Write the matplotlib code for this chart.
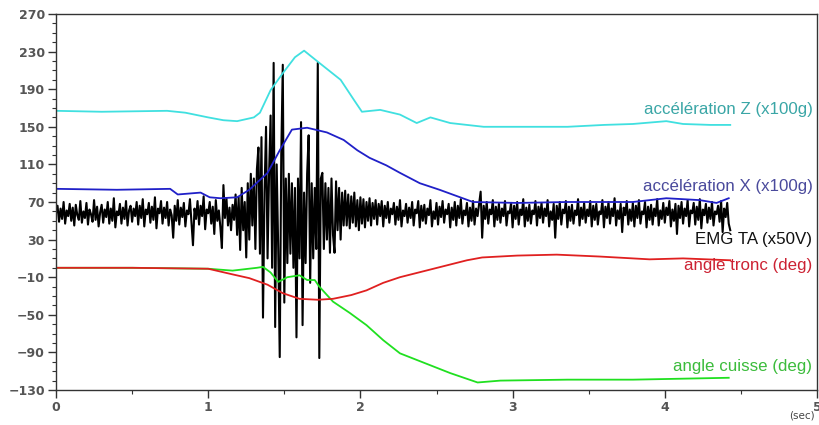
import numpy as np
import matplotlib
matplotlib.use("Agg")
import matplotlib.pyplot as plt
from matplotlib.ticker import MultipleLocator

# accélération Z (x100g)
acc_z_t = [0, 0.3, 0.73, 0.85, 1.0, 1.1, 1.19, 1.3, 1.34, 1.41, 1.49, 1.57, 1.63, 1.73,
           1.87, 1.96, 2.01, 2.13, 2.26, 2.37, 2.46, 2.59, 2.81, 3.1, 3.36, 3.6, 3.79,
           4.01, 4.12, 4.3, 4.43]
acc_z = [167, 166, 167, 165, 160, 157, 156, 160, 165, 189, 207, 224, 231, 218,
         200, 178, 166, 168, 163, 154, 160, 154, 150, 150, 150, 152, 153,
         156, 153, 152, 152]

# accélération X (x100g)
acc_x_t = [0, 0.4, 0.75, 0.80, 0.95, 1.01, 1.08, 1.19, 1.27, 1.39, 1.47, 1.55, 1.65, 1.78,
           1.89, 1.98, 2.06, 2.17, 2.26, 2.39, 2.52, 2.74, 3.03, 3.36, 3.79, 4.01, 4.23,
           4.34, 4.42]
acc_x = [84, 83, 84, 78, 80, 75, 74, 75, 83, 101, 125, 147, 149, 144,
         136, 125, 117, 109, 101, 90, 83, 70, 69, 70, 70, 74, 72,
         69, 74]

# angle tronc (deg)
tronc_t = [0, 0.5, 1.0, 1.16, 1.27, 1.39, 1.49, 1.60, 1.72, 1.82, 1.94, 2.04, 2.15, 2.26,
           2.48, 2.70, 2.80, 3.03, 3.29, 3.57, 3.90, 4.12, 4.43]
tronc = [0, 0, -1, -7, -11, -18, -27, -33, -34, -33, -29, -24, -16, -10,
         -1, 8, 11, 13, 14, 12, 9, 10, 8]

# angle cuisse (deg)
cuisse_t = [0, 0.5, 1.0, 1.16, 1.32, 1.36, 1.41, 1.46, 1.52, 1.60, 1.65, 1.70, 1.73, 1.82,
            1.93, 2.04, 2.15, 2.26, 2.37, 2.48, 2.59, 2.77, 2.92, 3.36, 3.79, 4.42]
cuisse = [0, 0, -1, -3, 0, 1, -5, -15, -10, -8, -13, -13, -20, -36,
          -48, -61, -77, -91, -98, -105, -112, -122, -120, -119, -119, -117]

# EMG TA (x50V), one sample every EMG_DT seconds
EMG_DT = 0.01
emg = [
    # 0.00 - 1.19 s
    58, 66, 49, 63, 52, 70, 47, 61, 55, 68,
    50, 64, 45, 67, 56, 51, 71, 48, 60, 53,
    69, 46, 62, 57, 49, 72, 51, 65, 44, 59,
    67, 48, 62, 54, 70, 47, 63, 50, 74, 43,
    60, 56, 68, 47, 64, 52, 71, 45, 61, 66,
    49, 63, 55, 70, 46, 66, 53, 73, 44, 62,
    57, 69, 48, 65, 51, 75, 42, 63, 58, 71,
    47, 64, 53, 70, 45, 62, 56, 32, 66, 50,
    72, 46, 64, 54, 69, 44, 61, 57, 73, 48,
    24, 63, 52, 71, 46, 66, 55, 76, 41, 62,
    58, 70, 47, 65, 36, 72, 50, 61, 43, 21,
    88, 53, 74, 45, 64, 40, 67, 51, 78, 35,
    # 1.20 - 1.29 s
    75, 19, 85, 40, 70, 11, 90, 30, 100, 45,
    # 1.30 - 1.90 s (burst)
    95, 20, 105, 128, 15, 139, -53, 80, 150, 10,
    100, 162, 0, 218, -63, 110, 20, -95, 120, 216,
    -37, 95, 5, 100, 15, 90, 0, 85, -74, 95,
    10, 155, -61, 80, 5, 100, 141, -16, 90, 10,
    85, 20, 218, -96, 95, 101, 20, 90, 30, 85,
    16, 95, 35, 16, 92, 40, 85, 30, 80, 45,
    82,
    # 1.91 - 4.43 s
    45, 78, 42, 76, 48, 80, 44, 72, 40, 75,
    47, 73, 43, 70, 50, 74, 45, 69, 52, 72,
    46, 68, 55, 71, 44, 66, 53, 70, 48, 63,
    57, 69, 46, 65, 51, 72, 44, 61, 55, 68,
    48, 64, 53, 70, 45, 62, 58, 71, 43, 66,
    50, 67, 47, 63, 56, 72, 44, 60, 52, 69,
    46, 65, 54, 71, 48, 62, 57, 68, 43, 64,
    51, 70, 45, 66, 53, 73, 47, 61, 56, 69,
    44, 64, 50, 71, 46, 63, 55, 68, 81, 32,
    66, 52, 70, 47, 62, 57, 72, 44, 65, 51,
    68, 48, 63, 55, 71, 45, 60, 58, 69, 43,
    66, 52, 70, 46, 62, 56, 73, 44, 64, 50,
    67, 47, 61, 57, 71, 45, 65, 53, 69, 48,
    63, 55, 72, 44, 60, 51, 68, 32, 66, 52,
    70, 46, 62, 58, 71, 43, 65, 50, 67, 47,
    61, 56, 73, 45, 64, 52, 69, 48, 62, 55,
    71, 44, 66, 51, 68, 46, 60, 57, 72, 43,
    65, 53, 70, 47, 63, 55, 74, 45, 61, 52,
    68, 38, 64, 56, 71, 46, 62, 50, 69, 44,
    66, 53, 72, 47, 60, 57, 70, 43, 65, 51,
    67, 46, 63, 55, 73, 45, 61, 52, 69, 48,
    64, 56, 71, 44, 62, 50, 68, 36, 66, 53,
    70, 47, 63, 55, 72, 44, 61, 58, 69, 46,
    65, 51, 73, 42, 62, 56, 68, 48, 64, 52,
    70, 45, 60, 57, 66, 49, 71, 38, 63, 54,
    69, 47, 40,
]
emg_t = np.arange(len(emg)) * EMG_DT

# (text, y position in data units, colour)
labels = [
    ("accélération Z (x100g)", 168, "#3aa6a6"),
    ("accélération X (x100g)", 87, "#4a4a9c"),
    ("EMG TA (x50V)", 30, "#111111"),
    ("angle tronc (deg)", 2, "#cc2233"),
    ("angle cuisse (deg)", -105, "#3cbc3c"),
]

fig = plt.figure(figsize=(8.19, 4.25), dpi=100)
ax = fig.add_axes([56 / 819, 35 / 425, 761 / 819, 376 / 425])

ax.plot(emg_t, emg, color="black", lw=1.5)
ax.plot(acc_z_t, acc_z, color="#40e0e0", lw=1.3)
ax.plot(acc_x_t, acc_x, color="#2020c8", lw=1.3)
ax.plot(cuisse_t, cuisse, color="#20e020", lw=1.3)
ax.plot(tronc_t, tronc, color="#e02020", lw=1.3)

for txt, y, col in labels:
    ax.text(4.97, y, txt, color=col, ha="right", va="center",
            fontsize=12.2, family="Liberation Sans")

ax.set_xlim(0, 5)
ax.set_ylim(-130, 270)
ax.set_xticks(range(6))
ax.set_yticks(range(-130, 271, 40))
ax.xaxis.set_minor_locator(MultipleLocator(0.5))
ax.yaxis.set_minor_locator(MultipleLocator(10))
ax.tick_params(which="major", direction="out", length=6, width=1, colors="#333333",
               labelsize=9, labelcolor="#555555", pad=2)
ax.tick_params(which="minor", direction="out", length=3, width=0.8, colors="#333333")
for lab in ax.get_xticklabels() + ax.get_yticklabels():
    lab.set_fontweight("bold")
for s in ax.spines.values():
    s.set_color("#333333")
    s.set_linewidth(1.0)

fig.text(802 / 819, 1 - 416 / 425, "(sec)", fontsize=7.5, color="#444444",
         ha="center", va="center")

fig.savefig("out.png", dpi=100)
